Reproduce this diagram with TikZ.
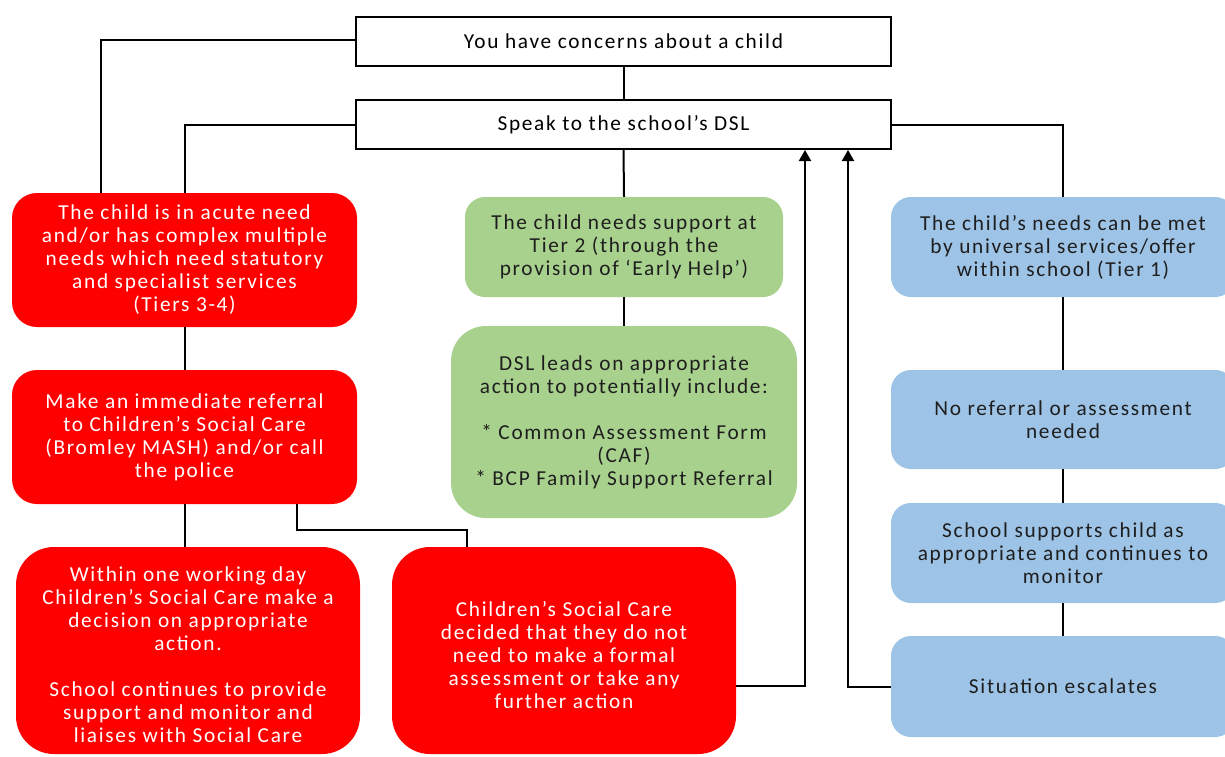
\documentclass[tikz,border=0pt]{standalone}
\usepackage{fontspec}
\setmainfont{Carlito}[LetterSpace=8]
\usetikzlibrary{arrows.meta}
\definecolor{boxred}{RGB}{255,0,0}
\definecolor{boxgreen}{RGB}{169,209,142}
\definecolor{boxblue}{RGB}{157,195,230}
\definecolor{darktext}{RGB}{30,30,30}
\tikzset{
  base/.style={align=center, inner sep=0pt, font=\fontsize{21.3}{23}\selectfont},
  plainbox/.style={base, draw=black, line width=2pt, fill=white, text=black},
  redbox/.style={base, fill=boxred, text=white, rounded corners=25pt},
  greenbox/.style={base, fill=boxgreen, text=darktext, rounded corners=20pt},
  bluebox/.style={base, fill=boxblue, text=darktext, rounded corners=20pt},
  conn/.style={draw=black, line width=2pt},
  arr/.style={conn, -{Triangle[width=12pt,length=11pt]}}
}
\begin{document}
\begin{tikzpicture}[x=1pt,y=-1pt]
\clip (0,0) rectangle (1225,756);
\fill[white] (0,0) rectangle (1225,756);

\node[plainbox, minimum width=535pt, minimum height=49pt] (A) at (623.5,41.5) {You have concerns about a child};
\node[plainbox, minimum width=535pt, minimum height=49pt] (B) at (623.5,124.5) {Speak to the school’s DSL};

\node[redbox, minimum width=345pt, minimum height=134pt] (r1) at (184.5,260) {The child is in acute need\\and/or has complex multiple\\needs which need statutory\\and specialist services\\(Tiers 3-4)};
\node[redbox, minimum width=345pt, minimum height=134pt] (r2) at (184.5,437) {Make an immediate referral\\to Children’s Social Care\\(Bromley MASH) and/or call\\the police};
\node[redbox, rounded corners=38pt, minimum width=344pt, minimum height=207pt] (r3) at (188,650.5) {};
\node[base, text=white] at (188,655) {Within one working day\\Children’s Social Care make a\\decision on appropriate\\action.\\~\\School continues to provide\\support and monitor and\\liaises with Social Care};
\node[redbox, rounded corners=38pt, minimum width=344pt, minimum height=207pt] (r4) at (564,650.5) {};
\node[base, text=white] at (564,655) {Children’s Social Care\\decided that they do not\\need to make a formal\\assessment or take any\\further action};

\node[greenbox, minimum width=318pt, minimum height=100pt] (g1) at (624,247) {The child needs support at\\Tier 2 (through the\\provision of ‘Early Help’)};
\node[greenbox, rounded corners=35pt, minimum width=346pt, minimum height=192pt] (g2) at (624,422) {DSL leads on appropriate\\action to potentially include:\\~\\* Common Assessment Form\\(CAF)\\* BCP Family Support Referral};

\node[bluebox, minimum width=344pt, minimum height=100pt] (b1) at (1063,247) {The child’s needs can be met\\by universal services/offer\\within school (Tier 1)};
\node[bluebox, minimum width=344pt, minimum height=99pt] (b2) at (1063,419.5) {No referral or assessment\\needed};
\node[bluebox, minimum width=344pt, minimum height=100pt] (b3) at (1063,553) {School supports child as\\appropriate and continues to\\monitor};
\node[bluebox, minimum width=344pt, minimum height=101pt] (b4) at (1063,686.5) {Situation escalates};

% connectors
\draw[conn] (A.south) -- (B.north);
\draw[conn] ([yshift=2pt]A.west) -| ([xshift=-83.5pt]r1.north);
\draw[conn] (B.west) -| (r1.north);
\draw[conn] (B.south) -- (g1.north);
\draw[conn] (B.east) -| (b1.north);
\draw[conn] (r1.south) -- (r2.north);
\draw[conn] (r2.south) -- (r2.south |- r3.north);
\draw[conn] ([xshift=112.5pt]r2.south) -- ++(0,26) -| ([xshift=-97pt]r4.north);
\draw[conn] (g1.south) -- (g2.north);
\draw[conn] (b1.south) -- (b2.north);
\draw[conn] (b2.south) -- (b3.north);
\draw[conn] (b3.south) -- (b4.north);
\draw[arr] ([yshift=-35.5pt]r4.east) -| ([xshift=181.5pt]B.south);
\draw[arr] (b4.west) -| ([xshift=224.5pt]B.south);
\end{tikzpicture}
\end{document}
